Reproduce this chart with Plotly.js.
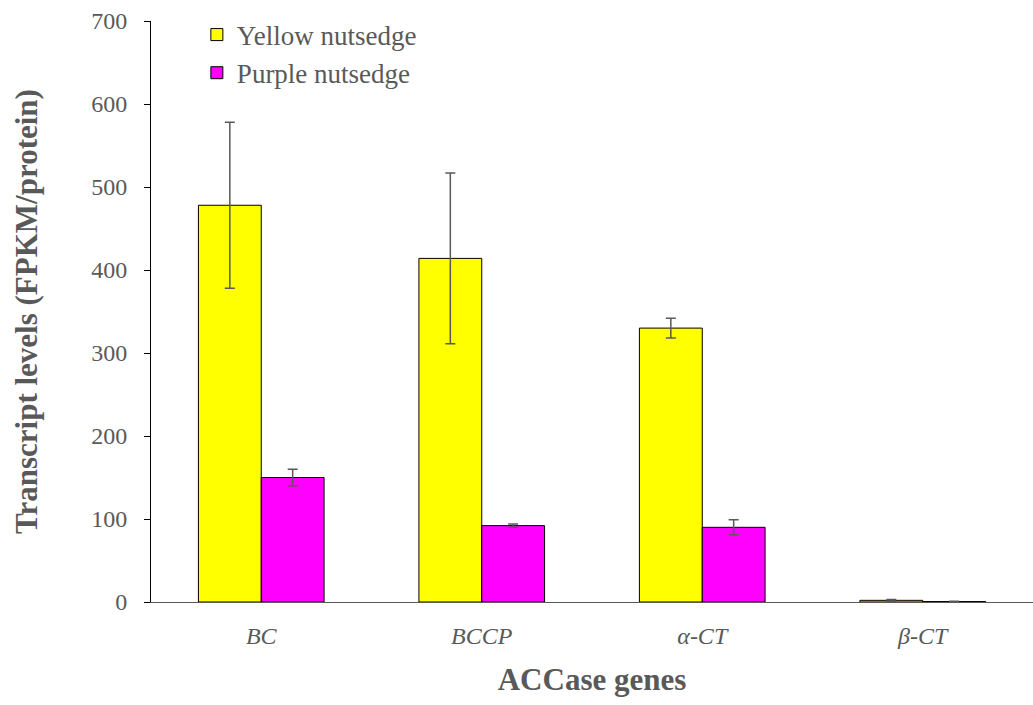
<!DOCTYPE html>
<html><head><meta charset="utf-8">
<script src="https://cdn.plot.ly/plotly-3.0.1.min.js"></script>
<style>html,body{margin:0;padding:0;background:#fff}</style>
</head><body>
<div id="chart" style="width:1033px;height:705px"></div>
<script>
const categories = ["<i>BC</i>", "<i>BCCP</i>", "<i>α-CT</i>", "<i>β-CT</i>"];
const yellowValues = [478, 414, 330, 2];
const yellowErrors = [100, 103, 12, 1];
const purpleValues = [150, 92, 90, 0.5];
const purpleErrors = [10, 2, 9, 0.5];
const yTicks = [0, 100, 200, 300, 400, 500, 600, 700];

const errStyle = (arr) => ({type: "data", array: arr, visible: true, color: "#595959", thickness: 1.5, width: 5});
const traces = [
  {type: "bar", name: "Yellow nutsedge", x: categories, y: yellowValues, error_y: errStyle(yellowErrors),
   marker: {color: "#ffff00", line: {color: "#000", width: 1}}},
  {type: "bar", name: "Purple nutsedge", x: categories, y: purpleValues, error_y: errStyle(purpleErrors),
   marker: {color: "#ff00ff", line: {color: "#000", width: 1}}}
];
const layout = {
  width: 1033, height: 705,
  margin: {l: 151, r: 0, t: 21, b: 103},
  paper_bgcolor: "#fff", plot_bgcolor: "#fff",
  font: {family: "Liberation Serif, Times New Roman, serif", color: "#595959", size: 24},
  barmode: "group", bargap: 0.43, bargroupgap: 0,
  showlegend: true,
  legend: {x: 0.052, y: 1.018, xanchor: "left", yanchor: "top", bgcolor: "rgba(0,0,0,0)",
           font: {size: 27, color: "#595959"}, tracegroupgap: 0, itemwidth: 30},
  xaxis: {type: "category", range: [-0.5, 3.5], showline: true, linecolor: "#595959", linewidth: 1,
          ticks: "", showgrid: false, zeroline: false, ticklabelstandoff: 12,
          tickfont: {size: 24, color: "#595959"},
          title: {text: "<b>ACCase genes</b>", font: {size: 31, color: "#595959"}, standoff: 20}},
  yaxis: {range: [0, 700], tickvals: yTicks, showline: true, linecolor: "#000", linewidth: 1,
          ticks: "outside", ticklen: 6, tickcolor: "#000", showgrid: false, zeroline: false,
          tickfont: {size: 24, color: "#595959"}, ticklabelstandoff: 12,
          title: {text: "<b>Transcript levels (FPKM/protein)</b>", font: {size: 31, color: "#595959"}, standoff: 44}}
};
Plotly.newPlot("chart", traces, layout, {displayModeBar: false, staticPlot: true});
</script>
</body></html>
